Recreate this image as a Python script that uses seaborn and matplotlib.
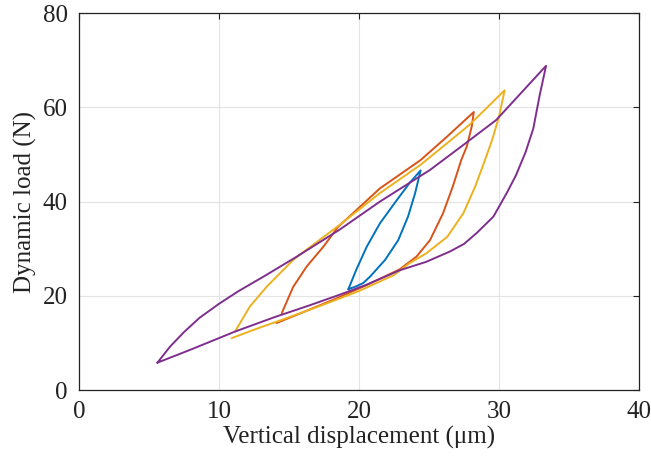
import pandas as pd
import numpy as np
import seaborn as sns
import matplotlib.pyplot as plt

# loops: loading branch first, then unloading branch back
blue_x = [19.24, 19.8, 20.3, 20.8, 21.86, 22.8, 23.5, 24.0, 24.4,
          23.6, 22.7, 21.5, 20.55, 19.8, 19.24]
blue_y = [21.4, 22.0, 22.7, 24.1, 27.6, 31.8, 36.8, 41.7, 46.6,
          43.9, 40.3, 35.4, 30.4, 25.5, 21.4]

orange_x = [14.1, 16.0, 18.2, 20.5, 22.9, 24.1, 25.07, 26.0, 26.7, 27.3, 27.7, 28.05, 28.2,
            26.3, 24.4, 21.5, 18.5, 17.45, 16.26, 15.3, 14.48]
orange_y = [14.2, 16.5, 19.2, 22.2, 25.6, 28.3, 31.8, 37.5, 43.2, 48.8, 51.7, 55.9, 59.0,
            53.8, 48.8, 42.8, 34.6, 30.4, 26.2, 21.9, 16.3]

yellow_x = [10.9, 12.5, 14.5, 17.0, 20.0, 22.5, 23.6, 24.8, 26.3, 27.45, 28.3, 28.9, 29.5, 30.0, 30.4,
            27.9, 26.3, 24.4, 21.5, 18.6, 15.9, 15.3, 14.36, 13.4, 12.2, 11.14]
yellow_y = [11.0, 12.8, 14.9, 17.6, 21.0, 24.4, 26.9, 29.0, 32.5, 37.5, 43.2, 48.0, 53.0, 58.0, 63.6,
            56.3, 52.4, 47.8, 41.8, 35.0, 29.0, 27.6, 24.8, 21.9, 17.7, 12.4]

purple_x = [5.6, 8.0, 11.14, 14.0, 16.5, 18.6, 20.5, 22.9, 24.8, 26.5, 27.5, 28.4, 29.6, 30.55,
            31.2, 31.9, 32.45, 32.9, 33.36,
            29.8, 27.45, 25.07, 21.5, 18.6, 15.55, 13.2, 11.4, 10.0, 8.6, 7.5, 6.5, 5.6]
purple_y = [5.8, 8.6, 12.4, 15.5, 18.0, 20.2, 22.3, 25.4, 27.2, 29.4, 31.0, 33.3, 36.8, 41.8,
            45.5, 50.5, 55.5, 62.5, 68.8,
            57.3, 52.0, 46.7, 40.0, 34.0, 28.3, 24.1, 21.0, 18.3, 15.3, 12.3, 9.2, 5.8]

loops = {"blue": (blue_x, blue_y), "orange": (orange_x, orange_y),
         "yellow": (yellow_x, yellow_y), "purple": (purple_x, purple_y)}
colors = {"blue": "#0072BD", "orange": "#D95319", "yellow": "#EDB120", "purple": "#7E2F8E"}

sns.set_style("white")
plt.rcParams["font.family"] = ["Liberation Serif", "DejaVu Serif"]

fig = plt.figure(figsize=(6.51, 4.70), dpi=100)
ax = fig.add_axes([0.1214, 0.1702, 0.8602, 0.8021])

for name, (xs, ys) in loops.items():
    df = pd.DataFrame({"x": xs, "y": ys})
    sns.lineplot(data=df, x="x", y="y", sort=False, estimator=None,
                 color=colors[name], linewidth=1.4, ax=ax)

ax.set_xlim(0, 40)
ax.set_ylim(0, 80)
ax.set_xticks([0, 10, 20, 30, 40])
ax.set_yticks([0, 20, 40, 60, 80])
ax.grid(True, color="#e3e3e3", linewidth=0.8)
ax.set_axisbelow(True)
for s in ax.spines.values():
    s.set_color("#222222")
    s.set_linewidth(0.9)
ax.tick_params(direction="in", length=4, width=0.8, top=True, right=True,
               labelsize=18, colors="#222222", pad=8)
ax.set_xlabel("Vertical displacement (μm)", fontsize=18, color="#222222", labelpad=2)
ax.set_ylabel("Dynamic load (N)", fontsize=18, color="#222222", labelpad=4)

fig.savefig("out.png", dpi=100)
